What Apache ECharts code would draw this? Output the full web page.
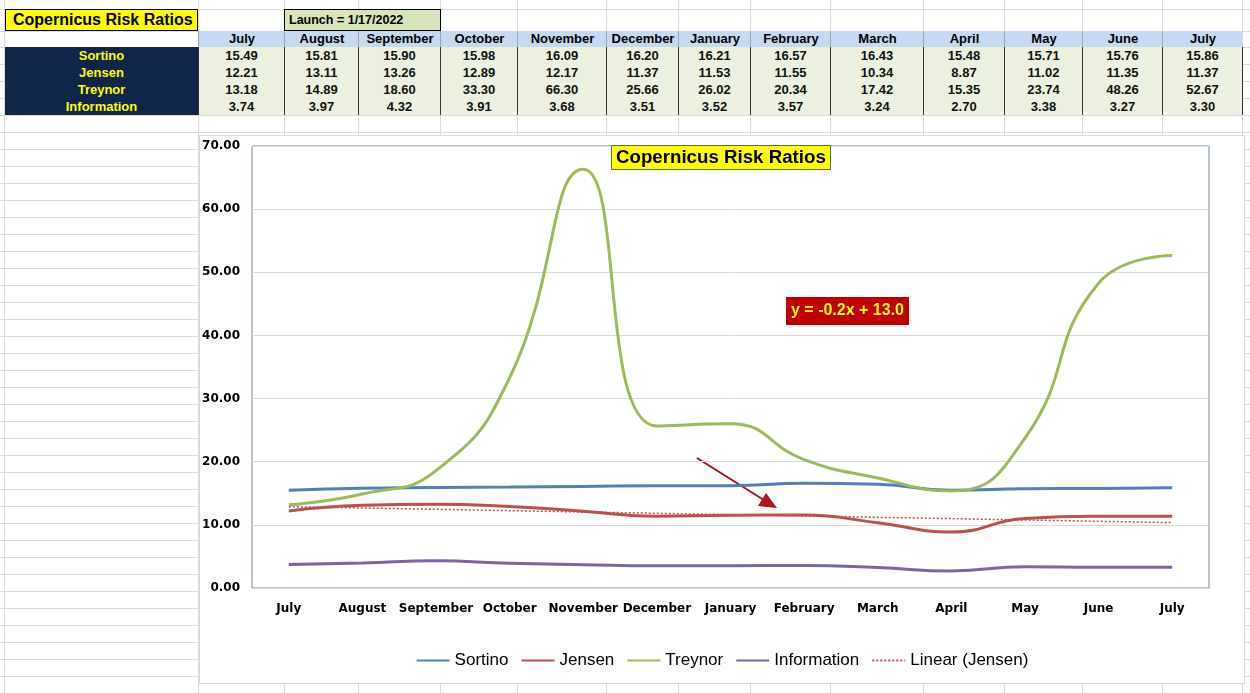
<!DOCTYPE html>
<html>
<head>
<meta charset="utf-8">
<script src="https://cdn.jsdelivr.net/npm/echarts@6/dist/echarts.min.js"></script>
<style>
  body { margin: 0; width: 1250px; height: 693px; overflow: hidden; background: #fff; position: relative; font-family: Arial, "Liberation Sans", sans-serif; }
  .gl { position: absolute; background: #dadada; }
  .cell { position: absolute; box-sizing: border-box; font-weight: bold; font-size: 13px; text-align: center; white-space: nowrap; line-height: 17px; }
  #chart { position: absolute; left: 199px; top: 135px; width: 1046px; height: 549px; background: #fff; outline: 1px solid #d9d9d9; outline-offset: -1px; }
</style>
</head>
<body>
<div id="chart"></div>
<script>
// table / chart data
const months = ['July', 'August', 'September', 'October', 'November', 'December', 'January', 'February', 'March', 'April', 'May', 'June', 'July'];
const sortino = [15.49, 15.81, 15.90, 15.98, 16.09, 16.20, 16.21, 16.57, 16.43, 15.48, 15.71, 15.76, 15.86];
const jensen = [12.21, 13.11, 13.26, 12.89, 12.17, 11.37, 11.53, 11.55, 10.34, 8.87, 11.02, 11.35, 11.37];
const treynor = [13.18, 14.89, 18.60, 33.30, 66.30, 25.66, 26.02, 20.34, 17.42, 15.35, 23.74, 48.26, 52.67];
const information = [3.74, 3.97, 4.32, 3.91, 3.68, 3.51, 3.52, 3.57, 3.24, 2.70, 3.38, 3.27, 3.30];
const rowNames = ['Sortino', 'Jensen', 'Treynor', 'Information'];
const sheetTitle = 'Copernicus Risk Ratios';
const launchText = 'Launch = 1/17/2022';
const trendText = 'y = -0.2x + 13.0';

// spreadsheet layout
const colEdges = [198, 284, 358, 440, 517, 606, 678, 750, 830, 923, 1004, 1082, 1162, 1242];
const body = document.body;

function add(cls, css, text) {
  const d = document.createElement('div');
  d.className = cls;
  d.style.cssText = css;
  if (text !== undefined) d.textContent = text;
  body.insertBefore(d, body.firstChild);
  return d;
}

// grid lines of the sheet
[4].concat(colEdges).forEach(x => add('gl', `left:${x}px;top:0;width:1px;height:693px`));
let rows = [9, 31];
for (let y = 47; y < 693; y += 17) rows.push(y);
rows.forEach(y => add('gl', `left:0;top:${y}px;width:1250px;height:1px`));

// table
const tbl = [];
tbl.push(add('cell', 'left:5px;top:9px;width:193px;height:22px;background:#ffff00;border:1px solid #000;text-align:left;padding-left:7px;font-size:16px;line-height:20px', sheetTitle));
tbl.push(add('cell', 'left:284px;top:9px;width:157px;height:22px;background:#d8e4bc;border:1px solid #000;text-align:left;padding-left:4px;line-height:20px;font-size:12.5px', launchText));
months.forEach((m, i) => {
  const l = colEdges[i], w = colEdges[i + 1] - l;
  tbl.push(add('cell', `left:${l}px;top:31px;width:${w + 1}px;height:17px;background:#c5d9f1;border-left:1px solid #9aa;border-bottom:1px solid #333;line-height:16px`, m));
});
const series = [sortino, jensen, treynor, information];
rowNames.forEach((name, r) => {
  const top = 47 + r * 17;
  tbl.push(add('cell', `left:5px;top:${top}px;width:193px;height:17px;background:#10254a;color:#ffff00`, name));
  series[r].forEach((v, i) => {
    const l = colEdges[i], w = colEdges[i + 1] - l;
    tbl.push(add('cell', `left:${l}px;top:${top}px;width:${w + 1}px;height:17px;background:#ebf1de;color:#111;border-left:1px solid #333;border-right:1px solid #333`, v.toFixed(2)));
  });
});
add('gl', 'left:5px;top:115px;width:1238px;height:1px;background:#222');
tbl.forEach(t => body.appendChild(t));
body.appendChild(document.getElementById('chart'));

// linear trend of Jensen (least squares, x = 1..n like the spreadsheet)
const n = jensen.length;
let sx = 0, sy = 0, sxy = 0, sxx = 0;
jensen.forEach((v, i) => { const x = i + 1; sx += x; sy += v; sxy += x * v; sxx += x * x; });
const slope = (n * sxy - sx * sy) / (n * sxx - sx * sx);
const intercept = (sy - slope * sx) / n;
const trend = jensen.map((v, i) => intercept + slope * (i + 1));

const chart = echarts.init(document.getElementById('chart'));

const lineSeries = (name, data, color) => ({
  name: name,
  type: 'line',
  data: data,
  smooth: 0.5,
  symbol: 'none',
  lineStyle: { color: color, width: 3 },
  itemStyle: { color: color }
});

const option = {
  animation: false,
  title: [
    {
      text: sheetTitle, left: 412, top: 10,
      backgroundColor: '#ffff00', borderColor: '#5a7040', borderWidth: 1, padding: [3, 5],
      textStyle: { fontSize: 18.7, fontWeight: 'bold', color: '#000', fontFamily: 'Arial' }
    },
    {
      text: trendText, left: 587, top: 162,
      backgroundColor: '#c00000', padding: [6, 5],
      textStyle: { fontSize: 16, fontWeight: 'bold', color: '#ffff00', fontFamily: 'Arial' }
    }
  ],
  legend: {
    top: 512, left: 'center',
    itemWidth: 33, itemHeight: 14, itemGap: 12,
    itemStyle: { color: 'rgba(0,0,0,0)', borderWidth: 0, opacity: 0 },
    textStyle: { fontSize: 17, color: '#000', fontFamily: 'Arial' },
    data: ['Sortino', 'Jensen', 'Treynor', 'Information', 'Linear (Jensen)']
  },
  grid: {
    left: 53, top: 11, right: 36, bottom: 96,
    show: true, borderColor: '#6b87a3', borderWidth: 1
  },
  xAxis: {
    type: 'category',
    data: months,
    axisTick: { show: false },
    axisLine: { lineStyle: { color: '#d9d9d9', width: 1 } },
    axisLabel: { interval: 0, margin: 15, color: '#000', fontWeight: 'bold', fontSize: 12, fontFamily: 'DejaVu Sans' }
  },
  yAxis: {
    type: 'value', min: 0, max: 70, interval: 10,
    axisLine: { show: false },
    splitLine: { lineStyle: { color: '#d9d9d9' } },
    axisLabel: { margin: 12, color: '#000', fontWeight: 'bold', fontSize: 12, fontFamily: 'DejaVu Sans',
      formatter: v => v.toFixed(2) }
  },
  series: [
    lineSeries('Sortino', sortino, '#4f81bd'),
    lineSeries('Jensen', jensen, '#c0504d'),
    lineSeries('Treynor', treynor, '#9bbb59'),
    lineSeries('Information', information, '#8064a2'),
    {
      name: 'Linear (Jensen)',
      type: 'line',
      data: trend,
      symbol: 'none',
      lineStyle: { color: '#c0504d', width: 1.5, type: [2, 2] },
      itemStyle: { color: '#c0504d' }
    }
  ],
  graphic: [
    { type: 'line', shape: { x1: 498, y1: 323, x2: 568, y2: 367 }, style: { stroke: '#a31515', lineWidth: 2 } },
    { type: 'polygon', shape: { points: [[578, 373], [559, 371], [567, 358]] }, style: { fill: '#b0141c' } }
  ]
};

chart.setOption(option);
</script>
</body>
</html>
